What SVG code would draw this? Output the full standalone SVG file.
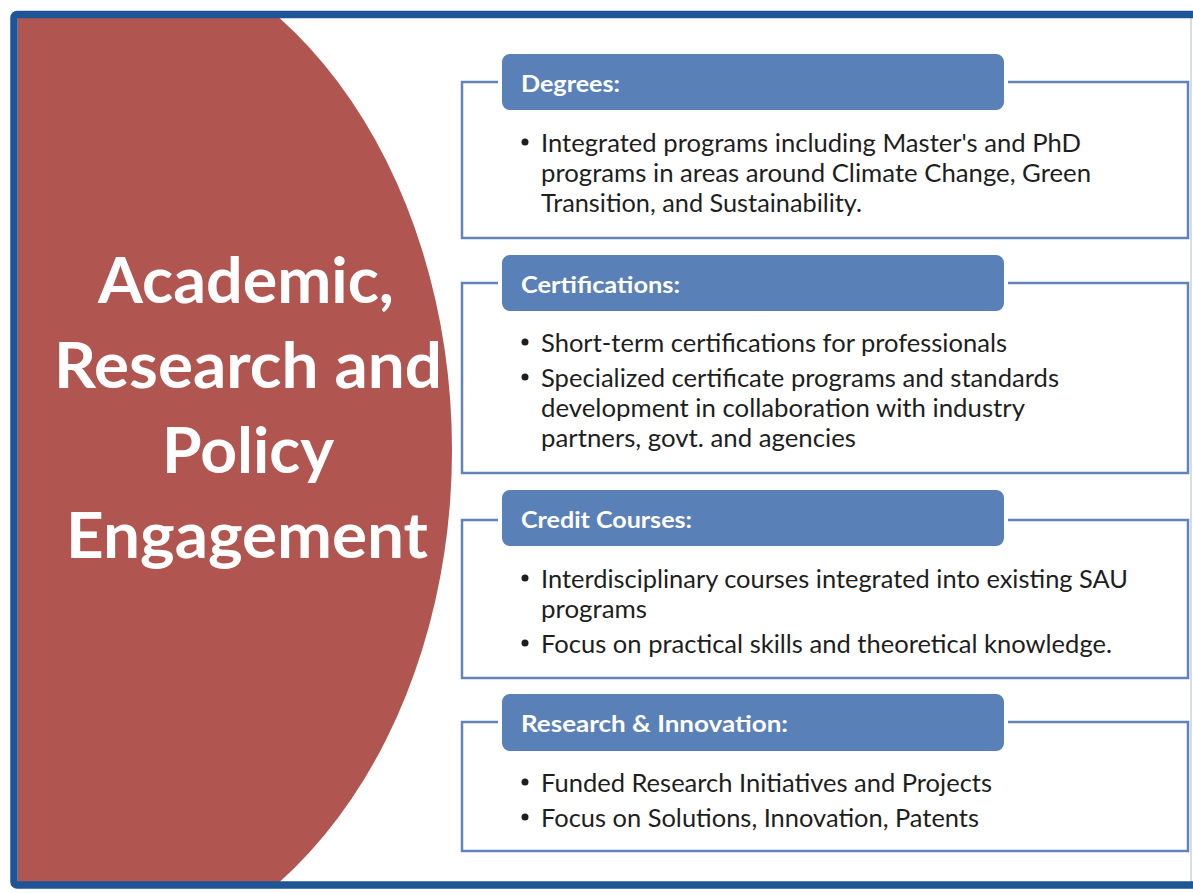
<svg xmlns="http://www.w3.org/2000/svg" width="1193" height="893" viewBox="0 0 1193 893">
<defs>
<style>
.hdr{fill:#5a80b8;stroke:#ffffff;stroke-width:4}
.brk{fill:#ffffff;stroke:#6283b8;stroke-width:2.5}
.ht{font-family:Lato,"Liberation Sans",sans-serif;font-weight:bold;font-size:22px;fill:#ffffff}
.bt{font-family:Lato,"Liberation Sans",sans-serif;font-size:25px;fill:#1e1e1e}
.tt{font-family:Lato,"Liberation Sans",sans-serif;font-weight:bold;font-size:64px;fill:#ffffff;text-anchor:middle}
.bul{fill:#1e1e1e}
</style>
<clipPath id="inner"><rect x="18" y="18" width="1175" height="864"/></clipPath>
</defs>
<rect x="0" y="0" width="1193" height="893" fill="#ffffff"/>
<g id="title-shape" clip-path="url(#inner)">
<ellipse cx="63" cy="450" rx="389" ry="520" fill="#b05550"/>
</g>
<g id="title">
<text class="tt" x="246" y="303" textLength="296" lengthAdjust="spacingAndGlyphs">Academic,</text>
<text class="tt" x="248" y="388" textLength="388" lengthAdjust="spacingAndGlyphs">Research and</text>
<text class="tt" x="248" y="473" textLength="172" lengthAdjust="spacingAndGlyphs">Policy</text>
<text class="tt" x="247" y="558" textLength="362" lengthAdjust="spacingAndGlyphs">Engagement</text>
</g>
<g id="degrees">
<rect class="brk" x="462" y="82" width="726" height="156"/>
<rect class="hdr" x="500" y="52" width="506" height="60" rx="10"/>
<text class="ht" x="521" y="92" textLength="99" lengthAdjust="spacingAndGlyphs">Degrees:</text>
<circle class="bul" cx="525" cy="142" r="3.5"/>
<text class="bt" x="541" y="152" textLength="540" lengthAdjust="spacingAndGlyphs">Integrated programs including Master's and PhD</text>
<text class="bt" x="541" y="182" textLength="550" lengthAdjust="spacingAndGlyphs">programs in areas around Climate Change, Green</text>
<text class="bt" x="541" y="212" textLength="321" lengthAdjust="spacingAndGlyphs">Transition, and Sustainability.</text>
</g>
<g id="certifications">
<rect class="brk" x="462" y="283" width="726" height="190"/>
<rect class="hdr" x="500" y="253" width="506" height="60" rx="10"/>
<text class="ht" x="521" y="293" textLength="159" lengthAdjust="spacingAndGlyphs">Certifications:</text>
<circle class="bul" cx="525" cy="342" r="3.5"/>
<text class="bt" x="541" y="352" textLength="466" lengthAdjust="spacingAndGlyphs">Short-term certifications for professionals</text>
<circle class="bul" cx="525" cy="377" r="3.5"/>
<text class="bt" x="541" y="387" textLength="518" lengthAdjust="spacingAndGlyphs">Specialized certificate programs and standards</text>
<text class="bt" x="541" y="417" textLength="484" lengthAdjust="spacingAndGlyphs">development in collaboration with industry</text>
<text class="bt" x="541" y="447" textLength="315" lengthAdjust="spacingAndGlyphs">partners, govt. and agencies</text>
</g>
<g id="credit-courses">
<rect class="brk" x="462" y="520" width="726" height="158"/>
<rect class="hdr" x="500" y="488" width="506" height="60" rx="10"/>
<text class="ht" x="521" y="528" textLength="171" lengthAdjust="spacingAndGlyphs">Credit Courses:</text>
<circle class="bul" cx="525" cy="578" r="3.5"/>
<text class="bt" x="541" y="588" textLength="587" lengthAdjust="spacingAndGlyphs">Interdisciplinary courses integrated into existing SAU</text>
<text class="bt" x="541" y="618" textLength="106" lengthAdjust="spacingAndGlyphs">programs</text>
<circle class="bul" cx="525" cy="643" r="3.5"/>
<text class="bt" x="541" y="653" textLength="571" lengthAdjust="spacingAndGlyphs">Focus on practical skills and theoretical knowledge.</text>
</g>
<g id="research-innovation">
<rect class="brk" x="462" y="722" width="726" height="129"/>
<rect class="hdr" x="500" y="692" width="506" height="61" rx="10"/>
<text class="ht" x="521" y="732" textLength="267" lengthAdjust="spacingAndGlyphs">Research &amp; Innovation:</text>
<circle class="bul" cx="525" cy="782" r="3.5"/>
<text class="bt" x="541" y="792" textLength="451" lengthAdjust="spacingAndGlyphs">Funded Research Initiatives and Projects</text>
<circle class="bul" cx="525" cy="817" r="3.5"/>
<text class="bt" x="541" y="827" textLength="438" lengthAdjust="spacingAndGlyphs">Focus on Solutions, Innovation, Patents</text>
</g>
<g id="frame">
<line x1="1191" y1="18" x2="1191" y2="882" stroke="#c9d2de" stroke-width="1.5"/>
<rect x="14" y="14.5" width="1200" height="870.5" rx="3" fill="none" stroke="#1f5596" stroke-width="7.5"/>
</g>
</svg>
